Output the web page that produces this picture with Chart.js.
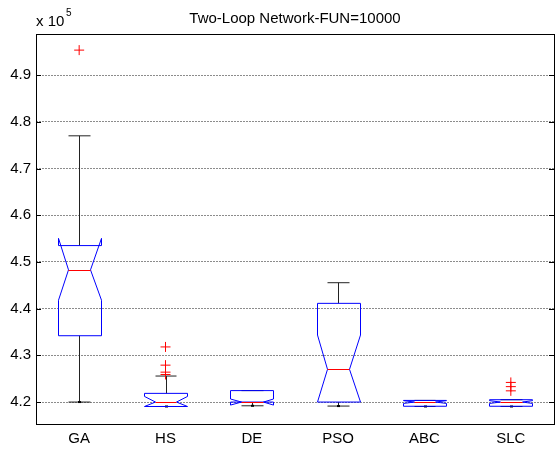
<!DOCTYPE html>
<html>
<head>
<meta charset="utf-8">
<script src="https://cdn.jsdelivr.net/npm/chart.js@4"></script>
<style>
  html, body { margin: 0; padding: 0; background: #fff; }
  #wrap { width: 560px; height: 450px; }
</style>
</head>
<body>
<div id="wrap"><canvas id="cv"></canvas></div>
<script>
  // datos de los boxplots (x 10^5)
  const labels     = ['GA', 'HS', 'DE', 'PSO', 'ABC', 'SLC'];
  const whiskerLow = [4.2,   4.1905, 4.192,  4.1914, 4.1905, 4.1905];
  const q1         = [4.342, 4.1905, 4.2,    4.2,    4.1910, 4.1910];
  const notchLow   = [4.418, 4.1905, 4.1935, 4.2,    4.1970, 4.1970];
  const median     = [4.483, 4.2,    4.2,    4.27,   4.2,    4.2];
  const notchHigh  = [4.5505, 4.212, 4.2065, 4.3435, 4.2030, 4.2030];
  const q3         = [4.535, 4.2186, 4.2245, 4.4113, 4.2035, 4.2050];
  const whiskerHigh= [4.77,  4.2557, 4.2245, 4.4555, 4.2035, 4.2050];
  const outliers   = [[4.9535], [4.318, 4.279, 4.264, 4.259], [], [], [], [4.242, 4.233, 4.224]];
  const yTicks     = [4.2, 4.3, 4.4, 4.5, 4.6, 4.7, 4.8, 4.9];

  const FONT = "'Liberation Sans', Arial, sans-serif";
  const BOX_HALF = 0.25, NOTCH_HALF = 0.125, CAP_HALF = 0.125;

  const outlierData = [];
  outliers.forEach((arr, i) => arr.forEach(v => outlierData.push({ x: i + 1, y: v })));

  // dibuja cajas con muesca, bigotes y marco estilo MATLAB
  const notchBox = {
    id: 'notchBox',
    beforeDatasetsDraw(chart) {
      const { ctx, scales: { x, y }, chartArea: a } = chart;
      ctx.save();
      ctx.beginPath();
      ctx.rect(a.left, a.top, a.right - a.left, a.bottom - a.top);
      ctx.clip();
      ctx.lineWidth = 1;
      labels.forEach((lab, i) => {
        const c = i + 1;
        const px = v => Math.round(x.getPixelForValue(v)) + 0.5;
        const py = v => y.getPixelForValue(v);
        // bigotes
        ctx.strokeStyle = '#222';
        ctx.beginPath();
        ctx.moveTo(px(c), py(q3[i])); ctx.lineTo(px(c), py(whiskerHigh[i]));
        ctx.moveTo(px(c), py(q1[i])); ctx.lineTo(px(c), py(whiskerLow[i]));
        ctx.moveTo(px(c - CAP_HALF), py(whiskerHigh[i])); ctx.lineTo(px(c + CAP_HALF), py(whiskerHigh[i]));
        ctx.moveTo(px(c - CAP_HALF), py(whiskerLow[i])); ctx.lineTo(px(c + CAP_HALF), py(whiskerLow[i]));
        ctx.stroke();
        ctx.fillStyle = '#000';
        ctx.fillRect(px(c) - 1.5, py(whiskerLow[i]) - 1, 3, 2);
        // caja
        const L = px(c - BOX_HALF), R = px(c + BOX_HALF);
        const IL = px(c - NOTCH_HALF), IR = px(c + NOTCH_HALF);
        ctx.strokeStyle = '#0000ff';
        ctx.beginPath();
        ctx.moveTo(L, py(q1[i]));
        ctx.lineTo(L, py(notchLow[i]));
        ctx.lineTo(IL, py(median[i]));
        ctx.lineTo(L, py(notchHigh[i]));
        ctx.lineTo(L, py(q3[i]));
        ctx.lineTo(R, py(q3[i]));
        ctx.lineTo(R, py(notchHigh[i]));
        ctx.lineTo(IR, py(median[i]));
        ctx.lineTo(R, py(notchLow[i]));
        ctx.lineTo(R, py(q1[i]));
        ctx.closePath();
        ctx.stroke();
        // mediana
        ctx.strokeStyle = '#ff0000';
        ctx.beginPath();
        const my = Math.round(py(median[i])) + 0.5;
        ctx.moveTo(IL, my); ctx.lineTo(IR, my);
        ctx.stroke();
      });
      ctx.restore();
    },
    afterDraw(chart) {
      const { ctx, scales: { y }, chartArea: a } = chart;
      ctx.save();
      ctx.strokeStyle = '#000';
      ctx.lineWidth = 1;
      ctx.strokeRect(Math.round(a.left) + 0.5, Math.round(a.top) + 0.5,
        Math.round(a.right - a.left), Math.round(a.bottom - a.top));
      ctx.beginPath();
      yTicks.forEach(v => {
        const ty = Math.round(y.getPixelForValue(v)) + 0.5;
        ctx.moveTo(a.left, ty); ctx.lineTo(a.left + 5, ty);
        ctx.moveTo(a.right, ty); ctx.lineTo(a.right - 5, ty);
      });
      ctx.stroke();
      // título y exponente
      ctx.fillStyle = '#000';
      ctx.textAlign = 'center';
      ctx.textBaseline = 'alphabetic';
      ctx.font = '15px ' + FONT;
      ctx.fillText('Two-Loop Network-FUN=10000', (a.left + a.right) / 2, 23);
      ctx.textAlign = 'left';
      ctx.font = '15px ' + FONT;
      ctx.fillText('x 10', 36, 26);
      ctx.font = '10px ' + FONT;
      ctx.fillText('5', 66, 16);
      ctx.restore();
    }
  };

  new Chart(document.getElementById('cv'), {
    type: 'scatter',
    data: {
      datasets: [{
        label: 'outliers',
        data: outlierData,
        pointStyle: 'cross',
        pointRadius: 5,
        pointBorderWidth: 1,
        borderColor: '#ff0000',
        backgroundColor: '#ff0000',
      }],
    },
    options: {
      responsive: true, maintainAspectRatio: false,
      animation: false,
      layout: { padding: { top: 34, right: 3, left: 0, bottom: 0 } },
      plugins: { legend: { display: false }, tooltip: { enabled: false } },
      scales: {
        x: {
          type: 'linear', min: 0.5, max: 6.5,
          afterFit: s => { s.height = 26; },
          afterBuildTicks: s => { s.ticks = labels.map((l, i) => ({ value: i + 1 })); },
          grid: { display: false, drawTicks: false },
          border: { display: false },
          ticks: {
            autoSkip: false, maxRotation: 0, padding: 6,
            color: '#000', font: { family: FONT, size: 15 },
            callback: v => labels[v - 1] || '',
          },
        },
        y: {
          min: 4.153, max: 4.988,
          afterFit: s => { s.width = 36; },
          afterBuildTicks: s => { s.ticks = yTicks.map(v => ({ value: v })); },
          grid: { color: '#8c8c8c', drawTicks: false },
          border: { display: false, dash: [2, 1] },
          ticks: {
            padding: 5, color: '#000', font: { family: FONT, size: 15 },
            callback: v => v.toFixed(1),
          },
        },
      },
    },
    plugins: [notchBox],
  });
</script>
</body>
</html>
